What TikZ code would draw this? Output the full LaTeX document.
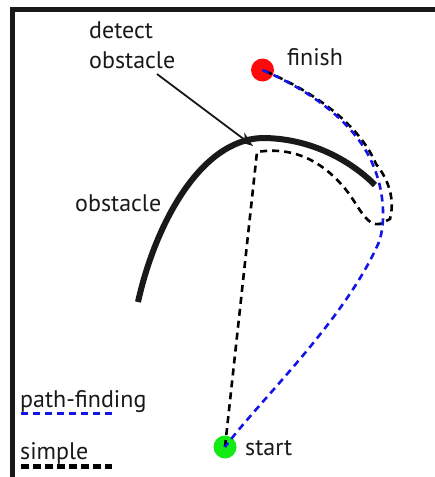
\documentclass[tikz,border=0pt]{standalone}
\usepackage{fontspec}
\setmainfont{PT Sans}
\usetikzlibrary{arrows.meta}
\definecolor{pathblue}{RGB}{20,20,230}
\definecolor{dotred}{RGB}{255,10,10}
\definecolor{dotgreen}{RGB}{20,235,20}
\tikzset{
  lbl/.style={font=\fontsize{24}{30}\selectfont, inner sep=0pt, text=black!90},
  frameline/.style={line width=5pt, black!90},
  obst/.style={line width=6pt, black!90, line cap=butt},
  simplepath/.style={black, line width=2.6pt, dash pattern=on 7pt off 5pt},
  findpath/.style={pathblue, line width=2.6pt, dash pattern=on 7pt off 5pt},
  dot/.style={circle, minimum size=23pt, inner sep=0pt},
  pointer/.style={line width=1.8pt, black!90, -{Stealth[length=15pt,width=11pt]}}
}
\begin{document}
\begin{tikzpicture}[x=1pt,y=-1pt]
\useasboundingbox (0,0) rectangle (435,477);
% frame on top and left
\draw[frameline] (435,9.5) -- (12,9.5) -- (12,477);

% start and finish
\node[dot, fill=dotred] (finish) at (262.5,70) {};
\node[dot, fill=dotgreen] (start) at (225,447) {};
\node[lbl, anchor=base west] (finishlbl) at (287,65) {finish};
\node[lbl, anchor=base west] (startlbl) at (245,455) {start};

% the obstacle
\coordinate (obsA) at (138,302);
\coordinate (obsB) at (375,185);
\draw[obst] (obsA) .. controls (155,225) and (200,140) .. (262,138)
             .. controls (310,138) and (350,160) .. (obsB);
\node[lbl, anchor=base west] (obslbl) at (75,211) {obstacle};

% detection pointer
\coordinate (hit) at (257,152);
\coordinate (hitmark) at (253,146);
\node[lbl, anchor=north west, align=left] (detect) at (89,21) {detect\\obstacle};
\coordinate (ptrstart) at (157,74);
\draw[pointer] (ptrstart) -- (hitmark);

% simple strategy: straight to the obstacle, then along it and around to the goal
\draw[simplepath] (start.center) -- (hit)
  .. controls (300,145) and (330,168) .. (350,195)
  .. controls (362,213) and (368,226) .. (380,224)
  -- (390,219)
  .. controls (395,200) and (389,180) .. (376,164)
  .. controls (361,128) and (320,94) .. (finish.center);

% path-finding strategy
\draw[findpath] (finish.center) .. controls (318,94) and (358,128) .. (373,165)
  .. controls (384,190) and (386,222) .. (379,242)
  .. controls (345,320) and (260,400) .. (start.center);

% legend
\node[lbl, anchor=base west] (legfind) at (20,407) {path-finding};
\coordinate (lf1) at (21,413);
\coordinate (lf2) at (112,413);
\draw[findpath, line width=3pt, dash pattern=on 7pt off 5pt] (lf1) -- (lf2);
\node[lbl, anchor=base west] (legsimple) at (20,459) {simple};
\coordinate (ls1) at (21,466);
\coordinate (ls2) at (112,466);
\draw[simplepath, line width=5pt, dash pattern=on 8pt off 4pt] (ls1) -- (ls2);
\end{tikzpicture}
\end{document}
